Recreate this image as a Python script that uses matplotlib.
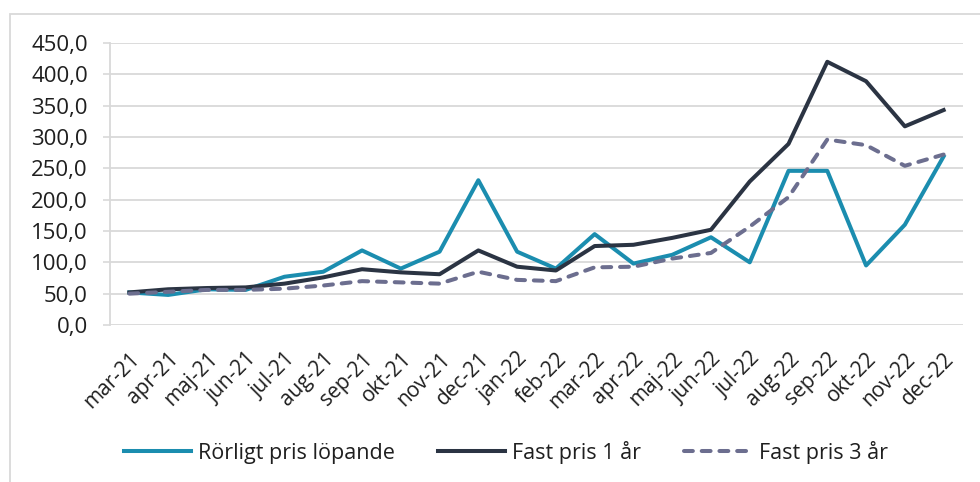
import matplotlib
matplotlib.use("Agg")
import matplotlib.pyplot as plt
from matplotlib.patches import Rectangle
from matplotlib.ticker import FuncFormatter

months = ["mar-21", "apr-21", "maj-21", "jun-21", "jul-21", "aug-21", "sep-21",
          "okt-21", "nov-21", "dec-21", "jan-22", "feb-22", "mar-22", "apr-22",
          "maj-22", "jun-22", "jul-22", "aug-22", "sep-22", "okt-22", "nov-22",
          "dec-22"]
rorligt = [52, 48, 57, 56, 77, 85, 119, 90, 117, 231, 117, 90, 145, 98, 112,
           140, 100, 246, 246, 95, 160, 269]
fast1 = [52, 57, 59, 60, 66, 76, 89, 84, 81, 119, 93, 87, 126, 128, 139,
         152, 229, 289, 420, 389, 317, 343]
fast3 = [50, 53, 56, 56, 58, 63, 70, 68, 66, 85, 72, 70, 92, 93, 106,
         115, 157, 204, 296, 287, 254, 272]
series_names = ["Rörligt pris löpande", "Fast pris 1 år", "Fast pris 3 år"]
yticks = [0, 50, 100, 150, 200, 250, 300, 350, 400, 450]

plt.rcParams['font.family'] = ['Open Sans', 'DejaVu Sans']

W, H = 980, 482
fig = plt.figure(figsize=(W / 100, H / 100), dpi=100)
ax = fig.add_axes([110 / W, 1 - 325 / H, (963 - 110) / W, (325 - 43) / H])

grid_c = "#D9D9D9"
txt_c = "#1F1F1F"
x = list(range(len(months)))
ax.plot(x, rorligt, color="#1B8DAF", lw=2.9, label=series_names[0])
ax.plot(x, fast1, color="#2B3443", lw=2.9, label=series_names[1])
ax.plot(x, fast3, color="#6C6E8F", lw=2.9, dashes=(2.2, 2.2), dash_capstyle="round",
        label=series_names[2])

ax.set_xlim(-0.5, len(months) - 0.5)
ax.set_ylim(0, 450)
ax.set_yticks(yticks)
ax.yaxis.set_major_formatter(FuncFormatter(lambda v, p: f"{v:.1f}".replace(".", ",")))
ax.set_xticks(x)
ax.set_xticklabels(months, rotation=45, ha="right", rotation_mode="anchor")
ax.tick_params(axis="x", length=0, pad=17, labelsize=15, colors=txt_c)
ax.tick_params(axis="y", length=5, width=1.2, color=grid_c, pad=11, labelsize=16,
               labelcolor=txt_c)
ax.grid(axis="y", color=grid_c, lw=1.3)
ax.set_axisbelow(True)
for s in ["top", "right", "bottom"]:
    ax.spines[s].set_visible(False)
ax.spines["left"].set_color(grid_c)
ax.spines["left"].set_linewidth(1.3)

leg = fig.legend(loc="center", bbox_to_anchor=(0.516, 1 - 452 / H), ncol=3,
                 frameon=False, fontsize=15.5, handlelength=3.1, columnspacing=2.0,
                 handletextpad=0.35)
for t in leg.get_texts():
    t.set_color(txt_c)

fig.patches.append(Rectangle((10 / W, -0.1), 1.2, 1 - 14 / H + 0.1,
                             transform=fig.transFigure, fill=False,
                             edgecolor=grid_c, lw=1.3))

fig.savefig("out.png", dpi=100)
